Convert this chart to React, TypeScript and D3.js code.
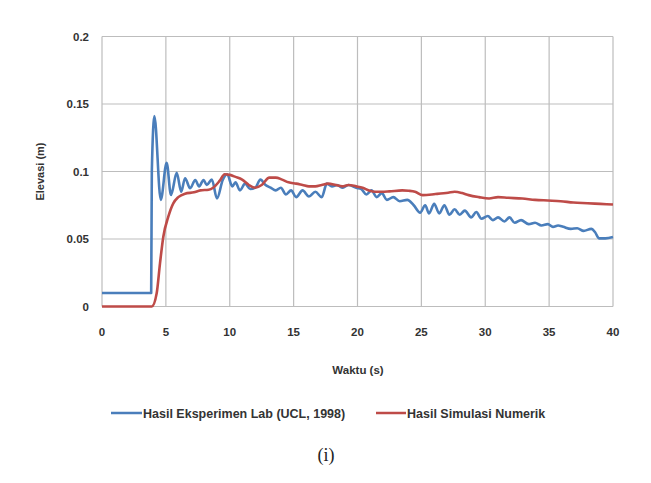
import React from 'react';
import * as d3 from 'd3';

// lab measurement (blue) - time (s), elevation (m)
const labTime = [
  0, 3.85, 3.9, 4.1, 4.6, 5.06, 5.4, 5.85, 6.2, 6.5, 6.9, 7.3, 7.6, 7.95, 8.2, 8.6, 9.0, 9.45, 9.8,
  10.2, 10.45, 10.8, 11.2, 11.6, 12.0, 12.4, 12.8, 13.2, 13.6, 14.0, 14.4, 14.8, 15.2, 15.7, 16.2,
  16.7, 17.2, 17.6, 18.0, 18.4, 18.8, 19.3, 19.9, 20.3, 20.7, 21.1, 21.5, 21.9, 22.3, 22.8, 23.3,
  23.9, 24.4, 24.9, 25.3, 25.6, 26.0, 26.4, 26.8, 27.2, 27.6, 28.0, 28.4, 28.9, 29.3, 29.7, 30.2,
  30.6, 31.0, 31.5, 31.9, 32.3, 32.8, 33.4, 33.9, 34.4, 34.9, 35.3, 35.7, 36.1, 36.7, 37.2, 37.7,
  38.3, 38.6, 38.9, 39.4, 40,
];
const labElev = [
  0.01, 0.01, 0.1, 0.141, 0.079, 0.1065, 0.0826, 0.099, 0.085, 0.095, 0.0876, 0.0937, 0.089, 0.0937,
  0.09, 0.094, 0.08, 0.0937, 0.098, 0.089, 0.092, 0.086, 0.091, 0.087, 0.088, 0.094, 0.09, 0.088,
  0.086, 0.088, 0.083, 0.086, 0.081, 0.086, 0.0815, 0.085, 0.081, 0.091, 0.089, 0.09, 0.088, 0.09,
  0.088, 0.087, 0.083, 0.086, 0.081, 0.084, 0.079, 0.081, 0.078, 0.079, 0.075, 0.0695, 0.075, 0.069,
  0.076, 0.069, 0.075, 0.068, 0.072, 0.068, 0.071, 0.066, 0.07, 0.065, 0.067, 0.064, 0.066, 0.063,
  0.066, 0.062, 0.064, 0.061, 0.062, 0.06, 0.061, 0.059, 0.06, 0.059, 0.0575, 0.058, 0.056, 0.0575,
  0.055, 0.0505, 0.0505, 0.0515,
];

// numerical simulation (red)
const simTime = [
  0, 3.9, 4.28, 4.54, 4.8, 5.19, 5.58, 5.97, 6.5, 7.2, 7.7, 8.35, 8.7, 9.2, 9.6, 10.0, 10.45, 10.97,
  11.5, 12.0, 12.5, 13.1, 13.6, 14.1, 14.6, 15.2, 15.7, 16.2, 16.7, 17.2, 17.7, 18.3, 18.8, 19.3,
  19.9, 20.4, 20.9, 21.4, 21.9, 22.5, 23.5, 24.0, 24.5, 25.1, 26.1, 27.1, 27.6, 28.2, 28.7, 29.5,
  30.3, 31.0, 31.8, 32.9, 33.9, 34.9, 35.9, 36.9, 38.0, 39.0, 40,
];
const simElev = [
  0, 0, 0.0098, 0.032, 0.0517, 0.0665, 0.0764, 0.081, 0.0836, 0.0846, 0.086, 0.0865, 0.088, 0.093,
  0.098, 0.0975, 0.096, 0.094, 0.09, 0.088, 0.09, 0.0955, 0.0955, 0.094, 0.092, 0.091, 0.09, 0.089,
  0.089, 0.09, 0.091, 0.09, 0.089, 0.09, 0.089, 0.088, 0.086, 0.085, 0.085, 0.0853, 0.086, 0.0857,
  0.085, 0.0825, 0.0833, 0.0843, 0.085, 0.084, 0.0825, 0.081, 0.08, 0.081, 0.0805, 0.08, 0.079,
  0.0785, 0.078, 0.077, 0.0765, 0.076, 0.0755,
];

const xTicks = [0, 5, 10, 15, 20, 25, 30, 35, 40];
const yTicks = [0, 0.05, 0.1, 0.15, 0.2];
const legendLabels = ['Hasil Eksperimen Lab (UCL, 1998)', 'Hasil Simulasi Numerik'];
const colors = ['#4a7ebb', '#be4b48'];

const W = 651;
const H = 483;
const plot = { left: 102, right: 613, top: 36.5, bottom: 306.5 };
const font = '"Liberation Sans Narrow", "Liberation Sans", sans-serif';

export default function App() {
  const x = d3.scaleLinear().domain([0, 40]).range([plot.left, plot.right]);
  const y = d3.scaleLinear().domain([0, 0.2]).range([plot.bottom, plot.top]);

  const line = d3
    .line<[number, number]>()
    .x((d) => x(d[0]))
    .y((d) => y(d[1]))
    .curve(d3.curveMonotoneX);

  const labPts = labTime.map((t, i) => [t, labElev[i]] as [number, number]);
  const simPts = simTime.map((t, i) => [t, simElev[i]] as [number, number]);

  return (
    <svg
      width={W}
      height={H}
      style={{ position: 'absolute', left: 0, top: 0, background: '#fff' }}
    >
      {/* grid */}
      {yTicks.map((v) => (
        <line key={'gy' + v} x1={plot.left} x2={plot.right} y1={y(v)} y2={y(v)} stroke="#bdbdbd" strokeWidth={1.2} />
      ))}
      {xTicks.map((v) => (
        <line key={'gx' + v} x1={x(v)} x2={x(v)} y1={plot.top} y2={plot.bottom} stroke="#bdbdbd" strokeWidth={1.2} />
      ))}

      {/* tick labels */}
      {yTicks.map((v) => (
        <text key={'ty' + v} x={plot.left - 13} y={y(v) + 4} textAnchor="end" fontFamily={font} fontWeight="bold" fontSize={11.5} fill="#333">
          {v}
        </text>
      ))}
      {xTicks.map((v) => (
        <text key={'tx' + v} x={x(v)} y={336} textAnchor="middle" fontFamily={font} fontWeight="bold" fontSize={11.5} fill="#333">
          {v}
        </text>
      ))}

      <text transform="translate(44,171.5) rotate(-90)" textAnchor="middle" fontFamily={font} fontWeight="bold" fontSize={11} fill="#333">
        Elevasi (m)
      </text>
      <text x={358} y={374} textAnchor="middle" fontFamily={font} fontWeight="bold" fontSize={11.5} fill="#333">
        Waktu (s)
      </text>

      {/* series */}
      <path d={line(labPts) ?? ''} fill="none" stroke={colors[0]} strokeWidth={2.6} strokeLinejoin="round" />
      <path d={line(simPts) ?? ''} fill="none" stroke={colors[1]} strokeWidth={2.6} strokeLinejoin="round" />

      {/* legend */}
      <line x1={111} x2={142} y1={413} y2={413} stroke={colors[0]} strokeWidth={2.5} />
      <text x={143} y={417.5} fontFamily={font} fontWeight="bold" fontSize={12.5} fill="#333">
        {legendLabels[0]}
      </text>
      <line x1={376} x2={406} y1={413} y2={413} stroke={colors[1]} strokeWidth={2.5} />
      <text x={407} y={417.5} fontFamily={font} fontWeight="bold" fontSize={12.5} fill="#333">
        {legendLabels[1]}
      </text>

      <text x={326} y={461} textAnchor="middle" fontFamily='"Liberation Serif", serif' fontSize={18} fill="#222">
        (i)
      </text>
    </svg>
  );
}
